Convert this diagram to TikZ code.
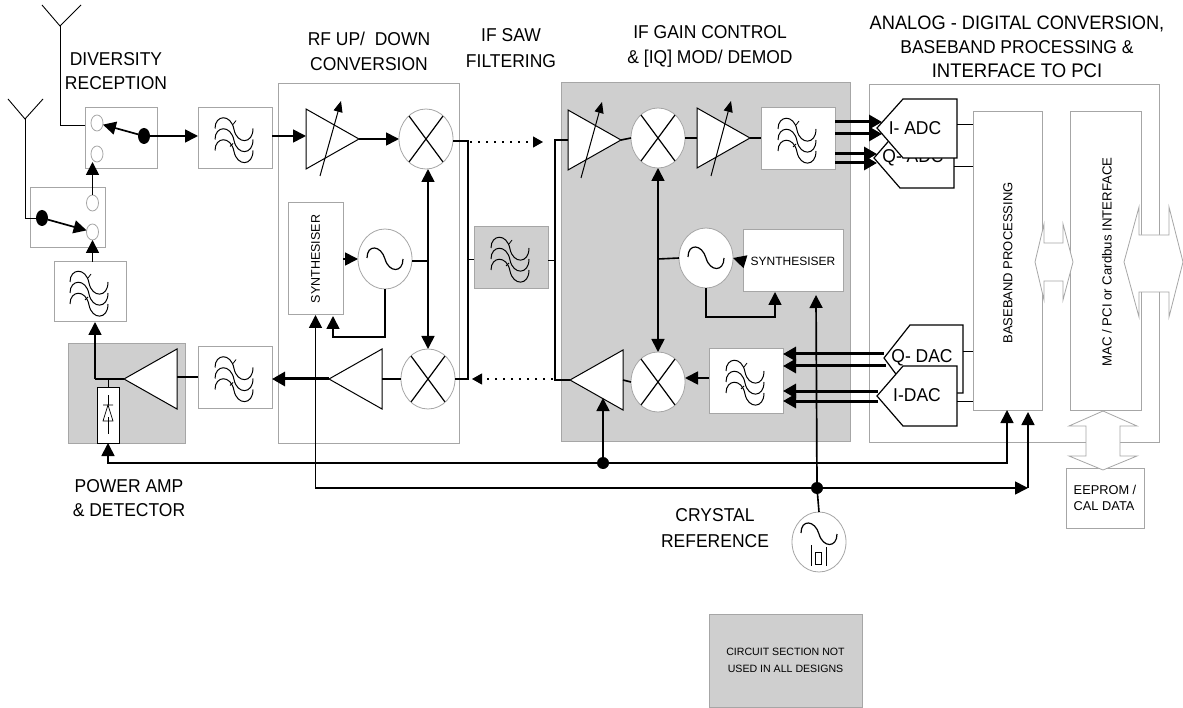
\documentclass[tikz,border=0pt]{standalone}
\usepackage{fontspec}
\setmainfont{Liberation Sans}
\newfontfamily\headfont[FakeStretch=0.94]{Liberation Sans}
\usetikzlibrary{arrows.meta,shapes.geometric}
\definecolor{boxgrey}{HTML}{A6A6A6}
\definecolor{shade}{HTML}{CFCFCF}
\tikzset{
  box/.style={draw=boxgrey,line width=1pt,rectangle,inner sep=0pt,outer sep=0pt},
  wbox/.style={box,fill=white},
  gbox/.style={box,fill=shade},
  round/.style={ellipse,draw=boxgrey,line width=.8pt,fill=white,inner sep=0pt,outer sep=0pt,minimum width=54pt,minimum height=60pt},
  term/.style={ellipse,draw=boxgrey,line width=.8pt,fill=white,inner sep=0pt,outer sep=0pt,minimum width=12pt,minimum height=16pt},
  hub/.style={ellipse,fill=black,inner sep=0pt,outer sep=0pt,minimum width=12pt,minimum height=16pt},
  joint/.style={circle,fill=black,inner sep=0pt,outer sep=0pt,minimum size=12pt},
  amp/.style={isosceles triangle,isosceles triangle stretches,draw=black,line width=1pt,fill=white,inner sep=0pt,outer sep=0pt,anchor=apex,minimum height=53pt,minimum width=60pt},
  ln/.style={line width=1.6pt,black},
  thin/.style={line width=.9pt,black},
  arr/.style={line width=1.7pt,black,-{Triangle[length=13pt,width=13pt]}},
  darr/.style={line width=1.7pt,black,{Triangle[length=13pt,width=13pt]}-{Triangle[length=13pt,width=13pt]}},
  fat/.style={line width=3pt,black,-{Triangle[length=13pt,width=14pt]}},
  dots/.style={line width=1.1pt,black,dash pattern=on 1.6pt off 6.4pt},
  head/.style={font=\headfont\fontsize{18.6}{20}\selectfont,inner sep=0pt,align=center},
  conv/.style={font=\headfont\fontsize{18.6}{20}\selectfont,inner sep=0pt},
  fat arrow/.style={draw=boxgrey,line width=.8pt,fill=white},
  conv shape/.style={draw=black,line width=1.2pt,fill=white},
  filtersym/.pic={
    \foreach \d in {0,11,22}{
      \draw[line width=1pt,black] (-20,-10+\d) .. controls (-20,-24+\d) and (-4,-25+\d) .. (-1,-9+\d) .. controls (2,6+\d) and (18,6+\d) .. (18,-10+\d);
    }
    \draw[line width=.8pt,black] (-2,-14) -- (1,-18) (-5,8) -- (-2,5);
  },
  sinesym/.pic={
    \draw[line width=1.2pt,black] (-18,-1) .. controls (-18,-15) and (-4,-14) .. (0,0) .. controls (4,14) and (18,14) .. (18,0);
  },
  mixsym/.pic={
    \draw[line width=1.2pt,black] (-17,-23) -- (17,23) (17,-23) -- (-17,23);
  }
}
\begin{document}
\begin{tikzpicture}[x=1pt,y=-1pt]
\useasboundingbox (0,0) rectangle (1183,708);
\fill[white] (0,0) rectangle (1183,708);
% section backgrounds
\node[box,minimum width=181pt,minimum height=359pt] (rfsec) at (368.5,263.5) {};
\node[gbox,minimum width=289pt,minimum height=358pt] (ifsec) at (705.5,262) {};
\node[box,minimum width=290pt,minimum height=357pt] (adsec) at (1014,263.5) {};
\node[gbox,minimum width=117pt,minimum height=99pt] (pasec) at (126.5,393.5) {};
% antennas
\coordinate (ant1) at (60,26);
\coordinate (ant1l) at (42,5);
\coordinate (ant1r) at (81,5);
\coordinate (ant2) at (25,119);
\coordinate (ant2l) at (8,99);
\coordinate (ant2r) at (43,99);
\draw[thin] (ant1l) -- (ant1) -- (ant1r);
\draw[thin] (ant2l) -- (ant2) -- (ant2r);
% switches
\node[box,minimum width=72pt,minimum height=61pt] (sw1) at (121,138.5) {};
\node[box,minimum width=75pt,minimum height=60pt] (sw2) at (67.5,218) {};
\node[term] (t1a) at (97,123) {};
\node[term] (t1b) at (97,154) {};
\node[hub] (h1) at (144,136) {};
\node[term] (t2a) at (92.5,203) {};
\node[term] (t2b) at (92.5,232) {};
\node[hub] (h2) at (42,218) {};
\draw[thin] (ant1) |- (sw1.west |- 0,125);
\draw[thin] (ant2) |- (h2);
% filters
\node[box,minimum width=74pt,minimum height=61pt] (f1) at (235,138.5) {};
\node[box,minimum width=72pt,minimum height=60pt] (f2) at (90,292) {};
\node[box,minimum width=74pt,minimum height=61pt] (f3) at (235,377.5) {};
\node[gbox,minimum width=74pt,minimum height=62pt] (saw) at (511,258) {};
\node[wbox,minimum width=74pt,minimum height=62pt] (f4) at (798,139) {};
\node[wbox,minimum width=74pt,minimum height=64pt] (f5) at (746,381) {};
\pic at (f1) {filtersym};
\pic at (f2) {filtersym};
\pic at (f3) {filtersym};
\pic at (saw) {filtersym};
\pic at (f4) {filtersym};
\pic at (f5) {filtersym};
% mixers and oscillators
\node[round] (m1) at (426,139) {};
\node[round] (m2) at (428,379) {};
\node[round] (m3) at (658,138) {};
\node[round] (m4) at (658,382) {};
\node[round] (o1) at (385,259) {};
\node[round] (o2) at (706,258) {};
\node[round] (xo) at (819,542) {};
\pic at (m1) {mixsym};
\pic at (m2) {mixsym};
\pic at (m3) {mixsym};
\pic at (m4) {mixsym};
\pic at (o1) {sinesym};
\pic at (o2) {sinesym};
\pic at ([yshift=8pt]xo.center) {sinesym};
\draw[line width=.8pt,black] (811,545) -- (811,566) (826,547) -- (826,566);
\draw[line width=.8pt,black] (815,552) rectangle (821,564);
% amplifiers
\node[amp] (a1) at (359,139) {};
\node[amp] (a3) at (621,140) {};
\node[amp] (a4) at (750,138) {};
\node[amp,shape border rotate=180] (a2) at (329,379) {};
\node[amp,shape border rotate=180] (a5) at (570,380) {};
\node[amp,shape border rotate=180] (pa) at (124,379) {};
% variable-gain arrows
\coordinate (v1a) at (320,176); \coordinate (v1b) at (341,101);
\coordinate (v3a) at (581,178); \coordinate (v3b) at (602,102);
\coordinate (v4a) at (711,176); \coordinate (v4b) at (731,101);
\foreach \p/\q in {v1a/v1b,v3a/v3b,v4a/v4b}
  \draw[line width=1pt,black,-{Triangle[length=11pt,width=9pt]}] (\p) -- (\q);
% synthesisers
\node[wbox,minimum width=55pt,minimum height=112pt] (syn1) at (315.5,259) {\rotatebox{90}{\fontsize{12.5}{14}\selectfont SYNTHESISER}};
\node[wbox,minimum width=100pt,minimum height=62pt,font=\fontsize{12}{14}\selectfont] (syn2) at (793,261) {SYNTHESISER};
% detector
\node[draw=black,line width=1pt,fill=white,inner sep=0pt,outer sep=0pt,minimum width=22pt,minimum height=56pt] (det) at (108,415) {};
\draw[line width=.7pt,black] (108,395) -- (108,405) (108,417) -- (108,434);
\draw[line width=.7pt,black] (103,405) -- (113,405) (108,405) -- (103,421) -- (113,421) -- cycle;
% baseband / MAC
\node[wbox,minimum width=69pt,minimum height=298pt] (bb) at (1007.5,261) {};
\node[wbox,minimum width=71pt,minimum height=298pt] (mac) at (1105.5,261) {};
\node[rotate=90,inner sep=0pt,font=\fontsize{13}{15}\selectfont] (bbt) at (1008,263) {BASEBAND PROCESSING};
\node[rotate=90,inner sep=0pt,font=\fontsize{13.2}{15}\selectfont] (mact) at (1107,262) {MAC / PCI or Cardbus INTERFACE};
% converters
\draw[conv shape] (900,128) -- (954,128) -- (954,188) -- (900,188) -- (874,158) -- cycle;
\node[conv] (qadc) at (913,158) {Q- ADC};
\draw[conv shape] (903,99) -- (957,99) -- (957,158) -- (903,158) -- (877,128) -- cycle;
\node[conv] (iadc) at (915,128) {I- ADC};
\draw[conv shape] (910,325) -- (963,325) -- (963,393) -- (910,393) -- (884,358) -- cycle;
\node[conv] (qdac) at (922,358) {Q- DAC};
\draw[conv shape] (903,366) -- (957,366) -- (957,426) -- (903,426) -- (877,396) -- cycle;
\node[conv] (idac) at (917,395) {I-DAC};
\draw[thin] (957,124) -- (bb.west |- 0,124);
\draw[thin] (954,166) -- (bb.west |- 0,166);
\draw[thin] (963,351) -- (bb.west |- 0,351);
\draw[thin] (957,401) -- (bb.west |- 0,401);
% internal buses
\draw[fat arrow] (1035,262) -- (1044,224) -- (1044,243) -- (1063,243) -- (1063,224) -- (1073,262) -- (1063,300) -- (1063,281) -- (1044,281) -- (1044,300) -- cycle;
\draw[fat arrow] (1124,262) -- (1139,207) -- (1139,235) -- (1169,235) -- (1169,207) -- (1183,262) -- (1169,317) -- (1169,292) -- (1139,292) -- (1139,317) -- cycle;
\node[box,minimum width=78pt,minimum height=60pt,font=\fontsize{12.8}{16}\selectfont,align=left] (eep) at (1105,498) {EEPROM /\\CAL DATA};
\draw[fat arrow] (1103,411) -- (1137,426) -- (1120,426) -- (1120,456) -- (1137,456) -- (1103,470) -- (1069,456) -- (1086,456) -- (1086,426) -- (1069,426) -- cycle;
% switch arrows
\draw[arr] (h1) -- (t1a);
\draw[arr] (h1) -- (f1.west |- h1);
\draw[arr] (h2) -- (t2b);
\draw[arr] (t2a.north) -- (t2a.north |- t1b.south);
\draw[arr] (t2b.south |- f2.north) -- (t2b.south);
% power amp
\coordinate (pajoin) at (95,379);
\draw[arr] (pajoin) -- (f2.south -| pajoin);
\draw[ln,line width=2pt] (pa.apex) -- (pajoin);
\draw[thin] (108,379) -- (det.north);
\draw[ln] (pa.lower side |- 0,377) -- (f3.west |- 0,377);
\draw[fat] (a2.apex) -- (f3.east |- a2.apex);
\draw[ln,line width=2pt] (a2.lower side) -- (m2.west);
% RF section
\draw[arr] (f1.east |- 0,136) -- (a1.lower side |- 0,136);
\draw[arr] (a1.apex) -- (m1.west);
\draw[arr] (syn1.east) -- (o1.west);
\coordinate (rfbus) at (428,261);
\draw[ln] (o1.east |- rfbus) -- (rfbus);
\draw[darr] (m1.south -| rfbus) -- (m2.north);
\coordinate (ifl) at (468,259);
\draw[ln] (m1.east |- 0,141) -- (468,141) -- (468,379) -- (m2.east);
\draw[thin] (ifl) -- (saw.west |- ifl);
\draw[arr] (o1.south) |- (333,337) -- (333,316);
% IF saw bypass
\coordinate (ifr) at (555,260);
\draw[thin] (saw.east |- ifr) -- (ifr);
\draw[ln] (a3.lower side) -- (555,140) -- (555,380) -- (a5.apex);
\draw[dots,-{Triangle[length=10pt,width=11pt]}] (470,142) -- (543,142);
\draw[dots,-{Triangle[length=10pt,width=11pt]}] (553,379) -- (472,379);
% IF section
\draw[ln] (a3.apex) -- (m3.west);
\draw[ln] (m3.east) -- (a4.lower side);
\draw[ln] (a4.apex) -- (f4.west |- a4.apex);
\draw[ln] (a5.lower side) -- (m4.west);
\draw[arr] (f5.west |- 0,378) -- (m4.east |- 0,378);
\coordinate (ifbus) at (658,259);
\draw[ln] (o2.west) -- (ifbus);
\draw[darr] (m3.south) -- (m4.north);
\draw[arr] (syn2.west) -- (o2.east);
\draw[arr] (o2.south) |- (775,317) -- (syn2.south -| 775,0);
% I/Q paths
\draw[fat] (f4.east |- 0,122) -- (882,122);
\draw[fat] (f4.east |- 0,134) -- (882,134);
\draw[fat] (f4.east |- 0,154) -- (877,154);
\draw[fat] (f4.east |- 0,163) -- (877,163);
\draw[fat] (884,354) -- (f5.east |- 0,354);
\draw[fat] (886,366) -- (f5.east |- 0,366);
\draw[fat] (878,391) -- (f5.east |- 0,391);
\draw[fat] (878,401) -- (f5.east |- 0,401);
% control buses
\node[joint] (j1) at (603,463) {};
\node[joint] (j2) at (817,488) {};
\draw[arr] (j1) -- (603,398);
\draw[arr] (j1) -| (bb.south -| 1007,0);
\draw[arr] (j1) -| (det.south);
\draw[arr] (j2) -- (1028,488);
\draw[arr] (1028,488) -- (1028,412);
\draw[arr] (j2) -| (syn1.south);
\draw[arr] (j2) -- (816,295);
\draw[ln] (xo.north) -- (j2);
% texts
\node[head] (l1) at (116,71) {DIVERSITY\\[4pt]RECEPTION};
\node[head] (l2) at (369,51) {RF UP/\ \ DOWN\\[5pt]CONVERSION};
\node[head] (l3) at (511,48) {IF SAW\\[6pt]FILTERING};
\node[head] (l4) at (710,46) {IF GAIN CONTROL\\[5pt]\& [IQ] MOD/ DEMOD};
\node[head] (l5) at (1017,47) {{\fontsize{19.4}{20}\selectfont ANALOG - DIGITAL CONVERSION,}\\[4pt]BASEBAND PROCESSING \&\\[4pt]{\fontsize{19.7}{20}\selectfont INTERFACE TO PCI}};
\node[head] (l6) at (129,498) {POWER AMP\\[4pt]\& DETECTOR};
\node[head] (l7) at (715,528) {CRYSTAL\\[6pt]REFERENCE};
% legend
\node[gbox,minimum width=153pt,minimum height=93pt,font=\fontsize{10.6}{17.5}\selectfont,align=center] (leg) at (785.5,660.5) {CIRCUIT SECTION NOT\\USED IN ALL DESIGNS};
\end{tikzpicture}
\end{document}
